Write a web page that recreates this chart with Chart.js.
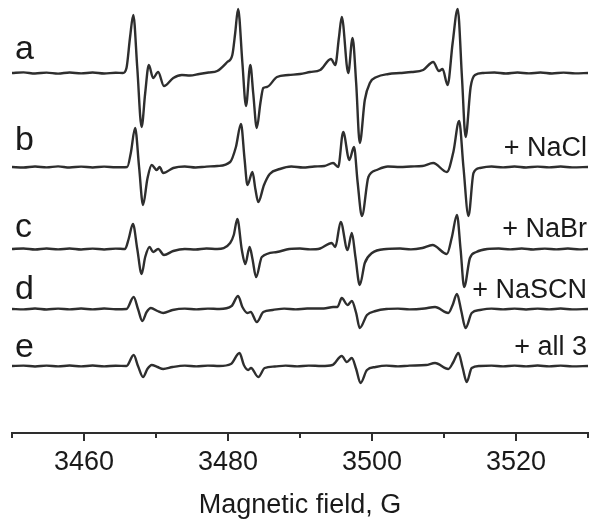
<!DOCTYPE html>
<html>
<head>
<meta charset="utf-8">
<script src="https://cdn.jsdelivr.net/npm/chart.js@4.4.1/dist/chart.umd.min.js"></script>
<style>
  html, body { margin: 0; padding: 0; background: #fff; }
  #chart { position: absolute; left: 0; top: 0; }
</style>
</head>
<body>
<canvas id="chart" width="600" height="525"></canvas>
<script>
// EPR spectra, [field (G), signal (arb.)]
const traceA = [
  [3450, 0], [3451.6, 0.6], [3453.2, -0.5], [3454.8, 0.4], [3456.4, -0.6], [3458, 0.5], [3459.6, -0.4],
  [3461.2, 0.5], [3462.8, -0.5], [3464.4, 0.3], [3465.4, 0], [3465.9, 5], [3466.4, 36], [3466.85, 58],
  [3467.4, 5], [3468.0, -54], [3468.5, -20], [3469.0, 8], [3469.6, -5], [3470.3, 1], [3471.1, -13],
  [3472.4, -5], [3473.6, -2], [3474.7, -2.5], [3476, -1], [3477.3, 0.5], [3478.5, 2], [3479.9, 11],
  [3480.6, 18], [3481.0, 40], [3481.4, 64], [3482.0, 10], [3482.5, -33], [3483.1, 8], [3483.5, -20],
  [3484.0, -55], [3484.5, -30], [3484.9, -15], [3485.4, -14], [3486.8, -4], [3488.4, -2], [3490, -1],
  [3491.4, 1], [3492.8, 3], [3494.3, 14], [3494.9, 8], [3495.4, 35], [3495.8, 56], [3496.7, 0],
  [3497.3, 35], [3497.8, -10], [3498.3, -70], [3499.0, -27], [3499.7, -10], [3500.65, -4], [3502.3, -1],
  [3503.9, 0], [3505.5, 1], [3507.1, 3], [3508.5, 11], [3509.3, 2], [3509.8, 4], [3510.5, -12],
  [3511.2, 30], [3511.9, 64], [3512.5, -5], [3513.0, -64], [3513.7, -14], [3514.3, -2], [3515.5, 0],
  [3517, 0.5], [3518.6, -0.5], [3520.2, 0.5], [3521.8, -0.4], [3523.4, 0.5], [3525, -0.5], [3526.6, 0.4],
  [3528.2, -0.4], [3530, 0]
];
const traceB = [
  [3450, 0], [3451.6, -0.5], [3453.2, 0.5], [3454.8, -0.4], [3456.4, 0.6], [3458, -0.5], [3459.6, 0.4],
  [3461.2, -0.5], [3462.8, 0.4], [3464.4, -0.3], [3466.0, 0], [3466.5, 14], [3467.1, 39], [3467.65, 0],
  [3468.2, -38], [3468.8, -12], [3469.4, 2], [3470.1, -3], [3470.5, 0], [3471.0, -6], [3472.4, -1],
  [3474, 0.5], [3475.5, -0.5], [3477, 0.4], [3478.5, 1], [3480.3, 5], [3481.1, 20], [3481.8, 43],
  [3482.3, 8], [3482.7, -18], [3483.4, -5], [3483.8, -22], [3484.2, -35], [3485.0, -18], [3485.8, -7],
  [3487.2, -2], [3488.8, 0.5], [3490.4, -0.5], [3492, 0.5], [3493.4, 1], [3494.6, 4], [3495.3, 0],
  [3496.0, 35], [3496.85, 7], [3497.5, 20], [3498.0, -15], [3498.6, -49], [3499.5, -10], [3500.65, -3],
  [3502.2, 0.5], [3503.9, 0], [3505.4, 0.5], [3507, 1], [3508.5, 4], [3510.4, -5], [3511.3, 15],
  [3512.1, 46], [3512.7, 0], [3513.4, -49], [3514.1, -6], [3515.0, -1], [3516.6, 0.5], [3518.2, -0.4],
  [3519.8, 0.5], [3521.4, -0.5], [3523, 0.4], [3524.6, -0.4], [3526.2, 0.5], [3527.8, -0.4], [3530, 0]
];
const traceC = [
  [3450, 0], [3451.6, 0.5], [3453.2, -0.5], [3454.8, 0.5], [3456.4, -0.4], [3458, 0.5], [3459.6, -0.5],
  [3461.2, 0.4], [3462.8, -0.5], [3464.4, 0.4], [3465.7, 0], [3466.2, 10], [3466.8, 25], [3467.4, 0],
  [3468.0, -25], [3468.5, -8], [3469.1, 2], [3469.6, -3], [3470.3, 0], [3471.1, -6], [3472.4, -2],
  [3474, 0], [3475.5, -0.5], [3477, 0.5], [3478.5, 0], [3480.3, 6], [3480.8, 14], [3481.3, 30],
  [3481.9, 0], [3482.4, -15], [3483.0, 2], [3483.4, -10], [3483.9, -28], [3484.7, -8], [3486.8, -3],
  [3488.5, 0], [3490, 0.5], [3491.4, -0.4], [3492.8, 0.5], [3494.4, 6], [3494.9, 2], [3495.65, 27],
  [3496.6, -1], [3497.2, 16], [3497.7, -8], [3498.3, -36], [3499.0, -14], [3500.0, -4], [3502, 0],
  [3503.9, 0.5], [3505.4, -0.4], [3507, 1], [3508.4, 4], [3510.4, -5], [3511.1, 12], [3511.8, 34],
  [3512.3, 0], [3512.8, -38], [3513.6, -9], [3514.5, -3], [3516, 0], [3517.6, 0.5], [3519.2, -0.4],
  [3520.8, 0.5], [3522.4, -0.5], [3524, 0.4], [3525.6, -0.4], [3527.2, 0.5], [3528.8, -0.4], [3530, 0]
];
const traceD = [
  [3450, 0], [3451.6, -0.4], [3453.2, 0.5], [3454.8, -0.5], [3456.4, 0.4], [3458, -0.4], [3459.6, 0.5],
  [3461.2, -0.4], [3462.8, 0.5], [3464.4, -0.3], [3465.9, 0], [3466.9, 12], [3467.5, 0], [3468.1, -12],
  [3468.7, -3], [3469.3, 1], [3470.2, -2], [3471.0, -4], [3472.3, -1], [3474, 0.4], [3475.6, -0.4],
  [3477.2, 0.4], [3478.8, 0], [3480.5, 3], [3481.4, 13], [3482.0, 2], [3482.7, -4], [3483.15, -3],
  [3484.0, -13], [3484.9, -3], [3486.2, -1], [3487.8, 0.4], [3489.4, -0.4], [3491, 0.5], [3493.3, 0.5],
  [3494.6, 2], [3495.2, 2], [3495.8, 11], [3496.6, 4], [3497.2, 8], [3497.8, -4], [3498.3, -19],
  [3499.3, -6], [3500.5, -2], [3502, 0], [3503.6, 0.4], [3505.2, -0.4], [3507.3, 0.5], [3508.75, 2],
  [3510.6, -4], [3511.2, 4], [3511.8, 15], [3512.4, -2], [3513.0, -19], [3513.85, -4], [3515, -1],
  [3516.6, 0.4], [3518.2, -0.4], [3519.8, 0.4], [3521.4, -0.5], [3523, 0.4], [3524.6, -0.4],
  [3526.2, 0.5], [3527.8, -0.4], [3530, 0]
];
const traceE = [
  [3450, 0], [3451.6, 0.4], [3453.2, -0.5], [3454.8, 0.4], [3456.4, -0.4], [3458, 0.5], [3459.6, -0.4],
  [3461.2, 0.5], [3462.8, -0.4], [3464.4, 0.3], [3465.9, 0], [3466.9, 11], [3467.5, 0], [3468.2, -11],
  [3468.8, -3], [3469.4, 1], [3470.2, -1], [3471.0, -3], [3472.3, -1], [3474, 0.4], [3475.6, -0.4],
  [3477.2, 0.4], [3478.8, 0], [3480.4, 2], [3481.6, 13], [3482.2, 1], [3482.8, -4], [3483.2, -2],
  [3484.2, -11], [3485.1, -2], [3486.5, -0.5], [3488, 0.4], [3489.6, -0.4], [3491.2, 0.4], [3493, 0],
  [3494.5, 1], [3495.8, 10], [3496.5, 4], [3497.2, 8], [3497.8, -3], [3498.4, -17], [3499.3, -4],
  [3500.5, -1], [3502, 0.4], [3503.6, -0.4], [3505.2, 0.4], [3507.5, 1], [3508.75, 3], [3510.6, -3],
  [3511.3, 4], [3512.0, 13], [3512.6, -2], [3513.15, -16], [3513.85, -2], [3515, 0], [3516.6, 0.4],
  [3518.2, -0.4], [3519.8, 0.4], [3521.4, -0.4], [3523, 0.5], [3524.6, -0.4], [3526.2, 0.4],
  [3527.8, -0.4], [3530, 0]
];

const traces = [traceA, traceB, traceC, traceD, traceE];
const offsets = [360, 266, 184, 124, 67];   // vertical stacking of the spectra
const traceNames = ['a', 'b', 'c', 'd', 'e'];
const additions = ['', '+ NaCl', '+ NaBr', '+ NaSCN', '+ all 3'];

const FONT = "'Liberation Sans', Arial, sans-serif";
const INK = '#2e2e2e';

// left letters and right-hand captions, pixel baselines
const letterY = [59, 150, 237, 299, 357];
const captionY = [0, 156, 237, 298, 355];

const labelsPlugin = {
  id: 'labels',
  afterDraw(chart) {
    const ctx = chart.ctx;
    const s = chart.scales.x;
    ctx.save();
    // tick marks: long at labelled values, short between
    ctx.strokeStyle = INK;
    ctx.lineWidth = 2;
    s.ticks.forEach(t => {
      const px = Math.round(s.getPixelForValue(t.value));
      const len = t.value % 20 === 0 ? 8 : 5;
      ctx.beginPath();
      ctx.moveTo(px, s.top);
      ctx.lineTo(px, s.top + len);
      ctx.stroke();
    });
    ctx.fillStyle = '#1a1a1a';
    ctx.textBaseline = 'alphabetic';
    ctx.font = '34px ' + FONT;
    ctx.textAlign = 'left';
    traceNames.forEach((n, i) => ctx.fillText(n, 15, letterY[i]));
    ctx.font = '27px ' + FONT;
    ctx.textAlign = 'right';
    additions.forEach((t, i) => { if (t) ctx.fillText(t, 587, captionY[i]); });
    ctx.restore();
  }
};

new Chart(document.getElementById('chart'), {
  type: 'scatter',
  data: {
    datasets: traces.map((tr, i) => ({
      label: traceNames[i],
      data: tr.map(([x, y]) => ({ x, y: y + offsets[i] })),
      showLine: true,
      borderColor: INK,
      borderWidth: 2.4,
      pointRadius: 0,
      cubicInterpolationMode: 'monotone',
      fill: false
    }))
  },
  options: {
    responsive: false,
    animation: false,
    devicePixelRatio: 1,
    layout: { padding: { left: 12, right: 12, top: 0, bottom: 0 } },
    plugins: { legend: { display: false }, tooltip: { enabled: false } },
    scales: {
      x: {
        type: 'linear',
        min: 3450,
        max: 3530,
        position: 'bottom',
        afterFit(scale) { scale.height = 92; },
        grid: { display: false },
        border: { display: true, color: INK, width: 2 },
        ticks: {
          stepSize: 10,
          autoSkip: false,
          maxRotation: 0,
          padding: 5,
          color: '#1a1a1a',
          font: { family: FONT, size: 27 },
          callback: v => (v % 20 === 0 ? String(v) : '')
        },
        title: {
          display: true,
          text: 'Magnetic field, G',
          color: '#1a1a1a',
          font: { family: FONT, size: 27 },
          padding: { top: 0, bottom: 3 }
        }
      },
      y: { display: false, min: 0, max: 433 }
    }
  },
  plugins: [labelsPlugin]
});
</script>
</body>
</html>
